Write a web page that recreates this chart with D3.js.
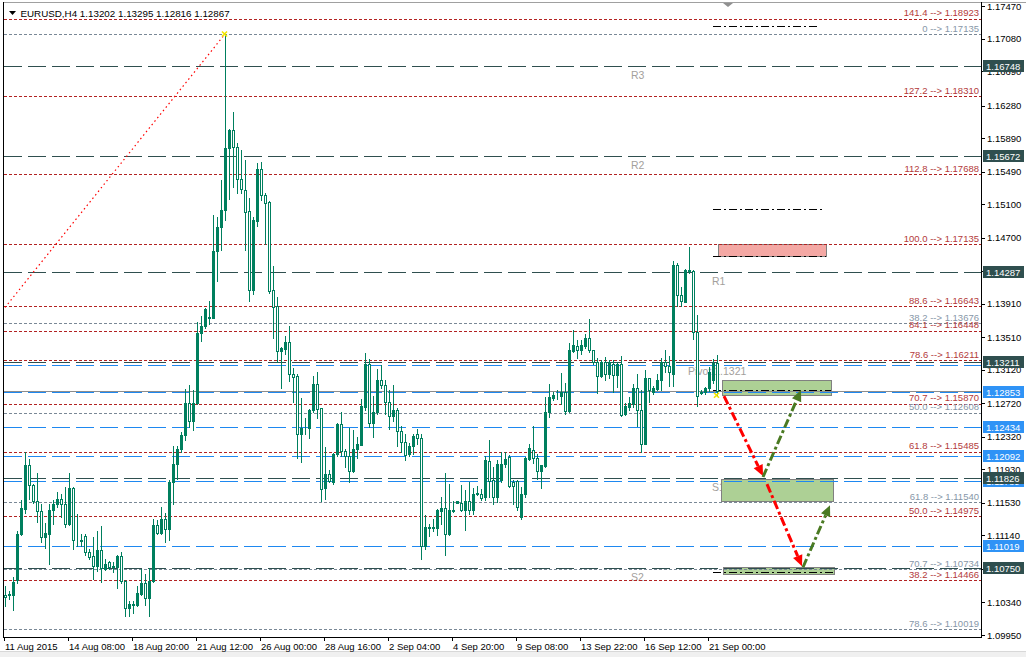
<!DOCTYPE html>
<html><head><meta charset="utf-8">
<script src="https://cdn.jsdelivr.net/npm/d3@7"></script>
<style>
body{margin:0;background:#fff;overflow:hidden}
svg{display:block}
text{font-family:"Liberation Sans",Arial,sans-serif}
</style>
</head><body>
<svg id="chart" width="1026" height="657"></svg>
<script>
// ---------- DATA (EURUSD H4) ----------
const symbolTitle = "EURUSD,H4  1.13202 1.13295 1.12816 1.12867";
const openP = [1.10433,1.10442,1.10424,1.10604,1.11153,1.11459,1.11981,1.11747,1.11549,1.11432,
1.11126,1.11162,1.11450,1.11522,1.11580,1.11522,1.11279,1.11711,1.11090,1.11076,
1.11139,1.10937,1.10892,1.10775,1.10964,1.10739,1.10820,1.10775,1.10766,1.10892,
1.10595,1.10271,1.10307,1.10307,1.10442,1.10577,1.10397,1.10595,1.11270,1.11171,
1.11342,1.11220,1.11774,1.11990,1.12170,1.12345,1.12728,1.12503,1.12719,1.13556,
1.13646,1.13745,1.13745,1.14537,1.14825,1.15032,1.15770,1.15986,1.15788,1.15397,
1.15269,1.15014,1.14080,1.14902,1.15517,1.15205,1.15126,1.14072,1.13881,1.13346,
1.13370,1.13450,1.13075,1.13043,1.12356,1.12420,1.12420,1.12636,1.12955,1.12660,
1.11710,1.11870,1.11774,1.12109,1.12468,1.12149,1.12093,1.11910,1.12177,1.12221,
1.12676,1.13186,1.12484,1.12612,1.12995,1.12939,1.12740,1.12572,1.12644,1.12388,
1.12261,1.12109,1.12213,1.12348,1.12309,1.11016,1.11231,1.11231,1.11231,1.11431,
1.11463,1.11159,1.11431,1.11534,1.11534,1.11447,1.11558,1.11447,1.11630,1.11630,
1.11599,1.12030,1.11807,1.11599,1.11799,1.11998,1.12078,1.11774,1.11791,1.11360,
1.11639,1.12054,1.12165,1.12070,1.11910,1.11966,1.12621,1.12788,1.12816,1.12812,
1.12852,1.12628,1.13347,1.13411,1.13355,1.13411,1.13506,1.13363,1.13219,1.13051,
1.13219,1.13075,1.13195,1.13059,1.13187,1.12597,1.12676,1.12708,1.12908,1.12644,
1.12238,1.13019,1.12852,1.12892,1.12996,1.13219,1.13163,1.13075,1.14376,1.14009,
1.13937,1.14296,1.14296,1.13570,1.12844,1.12852,1.12900,1.13000,1.13202];
const highP = [1.10532,1.10478,1.10649,1.11198,1.11567,1.12134,1.12053,1.11760,1.11891,1.11522,
1.11288,1.11513,1.11567,1.11657,1.11639,1.11715,1.11891,1.11720,1.11396,1.11162,
1.11162,1.10982,1.11126,1.11198,1.11252,1.10860,1.10838,1.10820,1.10910,1.10937,
1.10604,1.10361,1.10361,1.10541,1.10739,1.10676,1.10748,1.11342,1.11324,1.11486,
1.11414,1.11801,1.12206,1.12206,1.12377,1.12890,1.12944,1.12881,1.13691,1.13763,
1.13862,1.13943,1.14969,1.14951,1.15392,1.17135,1.16004,1.16202,1.15833,1.15748,
1.15628,1.15173,1.14950,1.15588,1.15604,1.15229,1.15134,1.14359,1.13992,1.13394,
1.13522,1.13641,1.13147,1.13067,1.12779,1.12540,1.12652,1.13043,1.13091,1.12668,
1.12197,1.11926,1.12125,1.12484,1.12620,1.12173,1.12420,1.12396,1.12317,1.12771,
1.13322,1.13250,1.12803,1.13131,1.13178,1.12995,1.12875,1.12939,1.12668,1.12444,
1.12356,1.12245,1.12348,1.12412,1.12348,1.11383,1.11279,1.11335,1.11455,1.11598,
1.11886,1.11758,1.11558,1.11558,1.11742,1.11686,1.11774,1.11710,1.11726,1.11694,
1.12086,1.12285,1.11958,1.12038,1.12141,1.12141,1.12098,1.11807,1.11799,1.11719,
1.12078,1.12237,1.12445,1.12118,1.11978,1.12796,1.12948,1.12852,1.12884,1.13083,
1.12964,1.13443,1.13602,1.13474,1.13474,1.13546,1.13722,1.13363,1.13267,1.13243,
1.13275,1.13235,1.13235,1.13219,1.13283,1.12724,1.12796,1.12948,1.13075,1.12876,
1.13115,1.13027,1.12932,1.13075,1.13267,1.13355,1.13283,1.14416,1.14392,1.14105,
1.14320,1.14592,1.14312,1.13770,1.12876,1.12916,1.13155,1.13250,1.13295];
const lowP = [1.10300,1.10379,1.10244,1.10568,1.11144,1.11414,1.11576,1.11531,1.11306,1.11063,
1.10991,1.10802,1.11279,1.11477,1.11360,1.11243,1.11261,1.10973,1.11018,1.11018,
1.10910,1.10856,1.10622,1.10721,1.10586,1.10730,1.10739,1.10703,1.10514,1.10568,
1.10172,1.10172,1.10208,1.10298,1.10433,1.10307,1.10172,1.10586,1.11153,1.11162,
1.11063,1.11090,1.11513,1.11819,1.12143,1.12278,1.12431,1.12395,1.12710,1.13466,
1.13619,1.13673,1.13745,1.14186,1.14555,1.14906,1.15167,1.15302,1.15237,1.15229,
1.14551,1.13945,1.14024,1.14838,1.15149,1.14623,1.14040,1.13506,1.13210,1.12907,
1.13314,1.12987,1.12740,1.12069,1.12021,1.12356,1.12309,1.12612,1.12548,1.11551,
1.11574,1.11774,1.11750,1.12093,1.12085,1.11957,1.11782,1.11894,1.12069,1.12221,
1.12636,1.12436,1.12317,1.12596,1.12899,1.12596,1.12412,1.12508,1.12213,1.12141,
1.12045,1.12093,1.12117,1.12237,1.10856,1.10984,1.11135,1.11191,1.11151,1.11279,
1.10904,1.11151,1.11423,1.11526,1.11431,1.11207,1.11399,1.11391,1.11622,1.11567,
1.11559,1.11599,1.11519,1.11539,1.11779,1.11958,1.11719,1.11519,1.11447,1.11336,
1.11599,1.12038,1.12006,1.11819,1.11711,1.11958,1.12557,1.12756,1.12776,1.12716,
1.12597,1.12620,1.13331,1.13267,1.13315,1.13379,1.13331,1.13195,1.12844,1.13035,
1.13004,1.13028,1.12860,1.12916,1.12573,1.12581,1.12636,1.12676,1.12453,1.12134,
1.12230,1.12740,1.12828,1.12884,1.12876,1.13091,1.12932,1.12932,1.13889,1.13889,
1.13929,1.14272,1.13490,1.12685,1.12828,1.12828,1.12868,1.12960,1.12816];
const closeP = [1.10410,1.10424,1.10586,1.11153,1.11468,1.11981,1.11738,1.11549,1.11432,1.11126,
1.11166,1.11450,1.11522,1.11580,1.11522,1.11279,1.11711,1.11090,1.11081,1.11085,
1.10937,1.10883,1.10775,1.10964,1.10748,1.10802,1.10757,1.10766,1.10892,1.10595,
1.10271,1.10316,1.10320,1.10451,1.10577,1.10397,1.10595,1.11270,1.11171,1.11342,
1.11220,1.11783,1.11990,1.12170,1.12345,1.12728,1.12503,1.12719,1.13556,1.13646,
1.13844,1.13754,1.14537,1.14825,1.15032,1.15770,1.15986,1.15788,1.15397,1.15277,
1.15006,1.14080,1.14910,1.15517,1.15205,1.15118,1.14064,1.13873,1.13346,1.13378,
1.13450,1.13075,1.13035,1.12356,1.12428,1.12428,1.12636,1.12955,1.12652,1.11694,
1.11870,1.11790,1.12109,1.12468,1.12149,1.12093,1.11910,1.12177,1.12237,1.12684,
1.13186,1.12484,1.12620,1.12995,1.12939,1.12740,1.12572,1.12644,1.12388,1.12261,
1.12101,1.12213,1.12332,1.12309,1.11016,1.11239,1.11239,1.11239,1.11439,1.11463,
1.11159,1.11439,1.11447,1.11558,1.11447,1.11558,1.11439,1.11638,1.11646,1.11590,
1.12038,1.11791,1.11599,1.11998,1.11998,1.12058,1.11735,1.11735,1.11479,1.11639,
1.12062,1.12181,1.12062,1.11910,1.11978,1.12621,1.12796,1.12820,1.12824,1.12852,
1.12628,1.13355,1.13419,1.13355,1.13419,1.13506,1.13363,1.13219,1.13051,1.13219,
1.13075,1.13211,1.13059,1.13187,1.12581,1.12684,1.12724,1.12908,1.12644,1.12238,
1.13019,1.12876,1.12900,1.12996,1.13219,1.13163,1.13091,1.14376,1.14009,1.13945,
1.14312,1.14312,1.13570,1.12812,1.12852,1.12900,1.13091,1.13200,1.12867];

const timeLabels = ["11 Aug 2015","14 Aug 08:00","18 Aug 20:00","21 Aug 12:00","26 Aug 00:00","28 Aug 16:00",
  "2 Sep 04:00","4 Sep 20:00","9 Sep 08:00","13 Sep 22:00","16 Sep 12:00","21 Sep 00:00"];
const timeLabelBars = [0,16,32,48,64,80,96,112,128,144,160,176];
const priceTicks = [1.17470,1.17080,1.16690,1.16280,1.15890,1.15490,1.15100,1.14700,1.14300,1.13910,
  1.13510,1.13120,1.12720,1.12320,1.11930,1.11530,1.11140,1.10740,1.10340,1.09950];

// pivot levels (dark long dash)
const pivotPrices = [1.16748,1.15672,1.14287,1.13211,1.11826,1.10750];
const pivotNames  = ["R3","R2","R1","Pivot 1.1321","S1","S2"];
const pivotNameBar = [156.5,156.5,176.75,170.75,176.75,156.5];
// second level set (blue long dash)
const bluePrices = [1.13176,1.12853,1.12434,1.12092,1.11789,1.11019];
const blueLabelShown = [false,true,true,true,true,true];
const bidPrice = 1.12867;
// red fibonacci (line positions and their labels)
const redFibRatios = ["141.4","127.2","112.8","100.0","88.6","84.1","78.6","70.7","61.8","50.0","38.2"];
const redFibLinePrices = [1.17318,1.16394,1.15457,1.14624,1.13882,1.13589,1.13232,1.12717,1.12138,1.11371,1.10603];
const redFibLabelPrices = ["1.18923","1.18310","1.17688","1.17135","1.16643","1.16448","1.16211","1.15870","1.15485","1.14975","1.14466"];
// gray fibonacci
const grayFibRatios = ["0","38.2","50.0","61.8","70.7","78.6"];
const grayFibPrices = [1.17135,1.13676,1.12608,1.11540,1.10734,1.10019];
// drawn objects
const fibTrend = {bars:[0,55], prices:[1.13866,1.17135]};
const anchorMarks = {bars:[55,178], prices:[1.17135,1.12816]};
const zoneBars   = [[178.25,205.25],[179.25,206.5],[179,207],[179.5,207.25]];
const zonePrices = [[1.14624,1.14480],[1.12997,1.12818],[1.11813,1.11550],[1.10759,1.10677]];
const zoneFills  = ["#f4a8a4","#add095","#add095","#add095"];
const blackLevelPrices = [1.17231,1.15043,1.14481,1.12879,1.10703];
const blackLevelBars = [[177,203.75],[177,204.25],[177,205.25],[177,206.5],[177,207.5]];
const arrowBars   = [[179.75,189.5],[189.5,199],[190.5,199.25],[199.5,206.25]];
const arrowPrices = [[1.12806,1.11851],[1.11839,1.12878],[1.11753,1.10772],[1.10760,1.11502]];
const arrowColors = ["#ff0000","#4a7a22","#ff0000","#4a7a22"];

// ---------- SCALES ----------
const W = 1026, H = 657;
const plot = {l:4, r:981, t:3, b:637};
const x = d3.scaleLinear().domain([0, 244]).range([5, 981]);
const y = d3.scaleLinear().domain([1.09950, 1.17470]).range([635, 6]);
const px = v => Math.round(v) + 0.5;

const svg = d3.select("#chart");
svg.append("rect").attr("width",W).attr("height",H).attr("fill","#fff");
svg.append("rect").attr("x",0).attr("y",652).attr("width",W).attr("height",5).attr("fill","#f0f0f0");
svg.append("line").attr("x1",0).attr("x2",W).attr("y1",651.5).attr("y2",651.5).attr("stroke","#d8d8d8");

const defs = svg.append("defs");
defs.append("clipPath").attr("id","plotclip").append("rect")
  .attr("x",plot.l).attr("y",plot.t).attr("width",plot.r-plot.l).attr("height",plot.b-plot.t);
const g = svg.append("g").attr("clip-path","url(#plotclip)");

// pivot names (under the zones)
g.append("g").selectAll("text").data(pivotPrices).join("text")
  .attr("x",(d,i)=>x(pivotNameBar[i])).attr("y",d=>y(d)+12.5)
  .attr("font-size",10.5).attr("fill","#a3a09c").text((d,i)=>pivotNames[i]);

// zones
g.append("g").selectAll("rect").data(zonePrices).join("rect")
  .attr("x",(d,i)=>px(x(zoneBars[i][0]))).attr("width",(d,i)=>Math.round(x(zoneBars[i][1])-x(zoneBars[i][0])))
  .attr("y",d=>px(y(d[0]))).attr("height",d=>Math.round(y(d[1])-y(d[0])))
  .attr("fill",(d,i)=>zoneFills[i]).attr("stroke","#808080").attr("stroke-width",1);

// horizontal levels
const hl = g.append("g").attr("shape-rendering","crispEdges");
function hline(p, color, dash){
  hl.append("line").attr("x1",plot.l).attr("x2",plot.r).attr("y1",px(y(p))).attr("y2",px(y(p)))
    .attr("stroke",color).attr("stroke-width",1).attr("stroke-dasharray",dash||null);
}
grayFibPrices.forEach(p=>hline(p,"#7a8896","3,2"));
redFibLinePrices.forEach(p=>hline(p,"#b22222","3,2"));
hline(bidPrice,"#8c8c8c",null);
bluePrices.forEach(p=>hline(p,"#1e88f0","18,6"));
pivotPrices.forEach(p=>hline(p,"#2f4f4f","18,6"));

// black dash-dot short levels
g.append("g").attr("shape-rendering","crispEdges").selectAll("line").data(blackLevelPrices).join("line")
  .attr("x1",(d,i)=>x(blackLevelBars[i][0])).attr("x2",(d,i)=>x(blackLevelBars[i][1]))
  .attr("y1",d=>px(y(d))).attr("y2",d=>px(y(d)))
  .attr("stroke","#000").attr("stroke-width",1).attr("stroke-dasharray","8,3,2,3");

// red dotted fib trend line
g.append("line").attr("x1",x(fibTrend.bars[0])).attr("y1",y(fibTrend.prices[0]))
  .attr("x2",x(fibTrend.bars[1])).attr("y2",y(fibTrend.prices[1]))
  .attr("stroke","#ff0000").attr("stroke-width",1.2).attr("stroke-dasharray","1.5,3");

// candles
const bars = d3.range(openP.length);
const cg = g.append("g").attr("shape-rendering","crispEdges");
const green = "#007f5e";
cg.selectAll("line").data(bars).join("line")
  .attr("x1",i=>px(x(i))).attr("x2",i=>px(x(i)))
  .attr("y1",i=>Math.round(y(highP[i]))).attr("y2",i=>Math.round(y(lowP[i]))+1)
  .attr("stroke",green).attr("stroke-width",1);
cg.selectAll("rect").data(bars).join("rect")
  .attr("x",i=>px(x(i))-1)
  .attr("width",2)
  .attr("y",i=>Math.round(y(Math.max(openP[i],closeP[i])))+0.5)
  .attr("height",i=>Math.max(0,Math.round(y(Math.min(openP[i],closeP[i])))-Math.round(y(Math.max(openP[i],closeP[i])))))
  .attr("fill",i=>closeP[i]>=openP[i]?green:"#fff")
  .attr("stroke",green).attr("stroke-width",1);

// fib labels
const fl = g.append("g").attr("font-size",9.5).attr("text-anchor","end");
fl.selectAll("text.gf").data(grayFibPrices).join("text").attr("class","gf")
  .attr("x",979).attr("y",d=>y(d)-2.5).attr("fill","#8797a8")
  .text((d,i)=>grayFibRatios[i]+"  -->  "+d.toFixed(5));
fl.selectAll("text.rf").data(redFibLinePrices).join("text").attr("class","rf")
  .attr("x",979).attr("y",d=>y(d)-2.5).attr("fill","#b33a3a")
  .text((d,i)=>redFibRatios[i]+"  -->  "+redFibLabelPrices[i]);

// arrows (dash-dot with filled heads)
const ag = g.append("g");
arrowPrices.forEach((pp,i)=>{
  const x1=x(arrowBars[i][0]), y1=y(pp[0]), x2=x(arrowBars[i][1]), y2=y(pp[1]);
  const ang=Math.atan2(y2-y1,x2-x1), L=11, Wd=5;
  const bx=x2-L*Math.cos(ang), by=y2-L*Math.sin(ang);
  ag.append("line").attr("x1",x1).attr("y1",y1).attr("x2",bx).attr("y2",by)
    .attr("stroke",arrowColors[i]).attr("stroke-width",3).attr("stroke-dasharray","9,3,3,3");
  const pts=[[x2,y2],[bx+Wd*Math.sin(ang),by-Wd*Math.cos(ang)],[bx-Wd*Math.sin(ang),by+Wd*Math.cos(ang)]];
  ag.append("path").attr("d",d3.line()(pts)+"Z").attr("fill",arrowColors[i]);
});

// anchor markers
g.append("g").selectAll("path").data(anchorMarks.bars).join("path")
  .attr("d",(b,i)=>{const cx=x(b)-0.5, cy=y(anchorMarks.prices[i]); return `M${cx-2.5},${cy-2.5}L${cx+2.5},${cy+2.5}M${cx-2.5},${cy+2.5}L${cx+2.5},${cy-2.5}`;})
  .attr("stroke","#f2e600").attr("stroke-width",1.6);

// ---------- FRAME ----------
svg.append("line").attr("x1",3).attr("x2",W).attr("y1",2.5).attr("y2",2.5).attr("stroke","#a0a0a0");
svg.append("line").attr("x1",3.5).attr("x2",3.5).attr("y1",2).attr("y2",638).attr("stroke","#000");
svg.append("line").attr("x1",3).attr("x2",982).attr("y1",637.5).attr("y2",637.5).attr("stroke","#000");
svg.append("line").attr("x1",981.5).attr("x2",981.5).attr("y1",2).attr("y2",638).attr("stroke","#000");
// chart shift marker
svg.append("path").attr("d",`M${x(179.5)},3L${x(182)},3L${x(180.75)},7Z`).attr("fill","#909090");

// title
svg.append("path").attr("d","M9,11L16,11L12.5,15Z").attr("fill","#000");
svg.append("text").attr("x",20.5).attr("y",16.5).attr("font-size",9.8).attr("fill","#000").text(symbolTitle);

// ---------- PRICE AXIS ----------
const ya = svg.append("g");
ya.selectAll("line").data(priceTicks).join("line")
  .attr("x1",982).attr("x2",985).attr("y1",d=>px(y(d))).attr("y2",d=>px(y(d))).attr("stroke","#000");
ya.selectAll("text").data(priceTicks).join("text")
  .attr("x",987).attr("y",d=>y(d)+3.5).attr("font-size",9.5).attr("fill","#000").text(d=>d.toFixed(5));
// blue level labels then pivot labels on top
const lab = svg.append("g");
function priceLabel(p,bg){
  const yy=Math.round(y(p));
  lab.append("rect").attr("x",983).attr("y",yy-6).attr("width",41).attr("height",12).attr("fill",bg);
  lab.append("text").attr("x",986).attr("y",yy+3.5).attr("font-size",9.5).attr("fill","#fff").text(p.toFixed(5));
}
bluePrices.forEach((p,i)=>{ if(blueLabelShown[i]) priceLabel(p,"#2f93f6"); });
pivotPrices.forEach(p=>priceLabel(p,"#2f4f4f"));

// ---------- TIME AXIS ----------
const xa = svg.append("g");
xa.selectAll("line").data(timeLabelBars).join("line")
  .attr("x1",b=>px(x(b)-1.5)).attr("x2",b=>px(x(b)-1.5)).attr("y1",638).attr("y2",641).attr("stroke","#000");
xa.selectAll("text").data(timeLabelBars).join("text")
  .attr("x",b=>x(b)).attr("y",649.5).attr("font-size",9.5).attr("fill","#000").text((b,i)=>timeLabels[i]);
</script>
</body></html>
